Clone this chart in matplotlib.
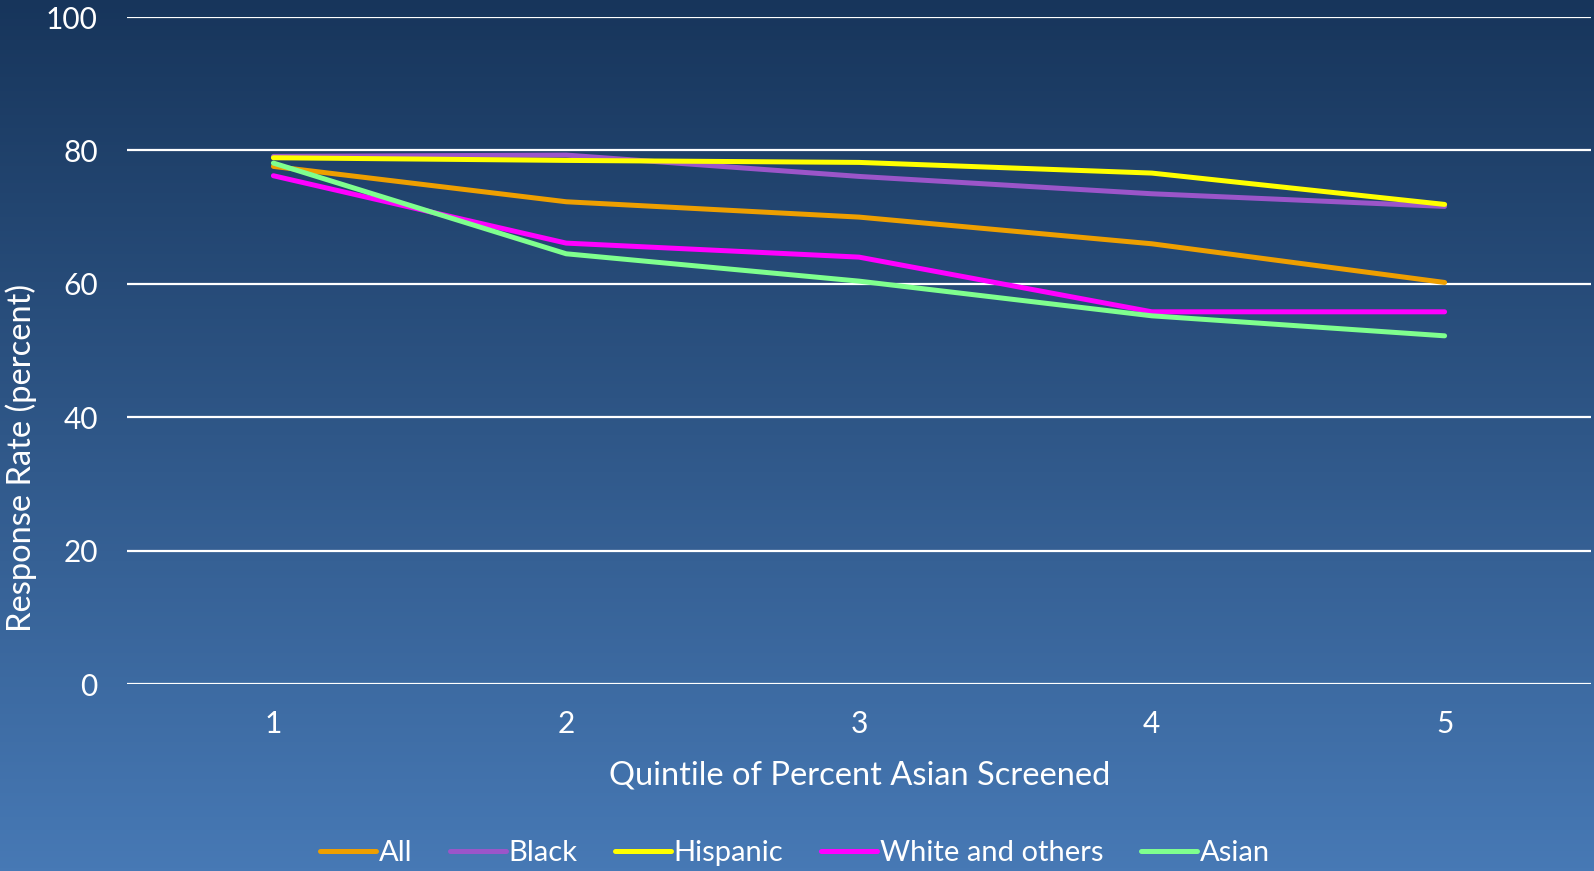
import numpy as np
import matplotlib
matplotlib.use('Agg')
import matplotlib.pyplot as plt
from matplotlib.colors import LinearSegmentedColormap

# valeurs
quintiles = [1, 2, 3, 4, 5]
all_rate = [77.6, 72.3, 70.0, 66.0, 60.2]
black_rate = [79.1, 79.3, 76.1, 73.5, 71.6]
hispanic_rate = [78.9, 78.5, 78.2, 76.6, 71.9]
white_rate = [76.2, 66.1, 64.0, 55.8, 55.8]
asian_rate = [78.1, 64.5, 60.4, 55.2, 52.2]

series = [
    ('All', all_rate, '#EE9F00'),
    ('Black', black_rate, '#9B55C9'),
    ('Hispanic', hispanic_rate, '#FFFF00'),
    ('White and others', white_rate, '#FF00FF'),
    ('Asian', asian_rate, '#7FFF8E'),
]

plt.rcParams['font.family'] = ['Lato', 'DejaVu Sans']

fig = plt.figure(figsize=(15.94, 8.71), dpi=100)

# fond en dégradé
bg = fig.add_axes([0, 0, 1, 1], zorder=-10)
cmap = LinearSegmentedColormap.from_list('bg', ['#4779B5', '#17355B'])
grad = np.linspace(0, 1, 256).reshape(-1, 1)
bg.imshow(grad, aspect='auto', cmap=cmap, origin='lower', extent=[0, 1, 0, 1])
bg.axis('off')

ax = fig.add_axes([127 / 1594, 1 - 684 / 871, 1464 / 1594, 667 / 871])
ax.set_facecolor('none')

for name, vals, col in series:
    ax.plot(quintiles, vals, color=col, lw=3.6, label=name, solid_capstyle='round')

ax.set_xlim(0.5, 5.5)
ax.set_ylim(0, 100)
ax.set_yticks([0, 20, 40, 60, 80, 100])
ax.set_xticks(quintiles)
ax.yaxis.grid(True, color='white', lw=1.6)
ax.set_axisbelow(True)
for s in ax.spines.values():
    s.set_visible(False)
ax.tick_params(length=0, colors='white', labelsize=21.5)
ax.tick_params(axis='y', pad=21)
ax.tick_params(axis='x', pad=19)

fig.text(860 / 1594, 1 - 775 / 871, 'Quintile of Percent Asian Screened',
         color='white', fontsize=23.5, ha='center', va='center')
fig.text(21 / 1594, 1 - 458 / 871, 'Response Rate (percent)',
         color='white', fontsize=23.5, ha='center', va='center', rotation=90)

leg = fig.legend(loc='center', bbox_to_anchor=(795 / 1594, 1 - 853 / 871), ncol=5,
                 frameon=False, fontsize=21, handlelength=1.9, handletextpad=0.1,
                 columnspacing=1.3, labelcolor='white')

fig.savefig('out.png', dpi=100)
